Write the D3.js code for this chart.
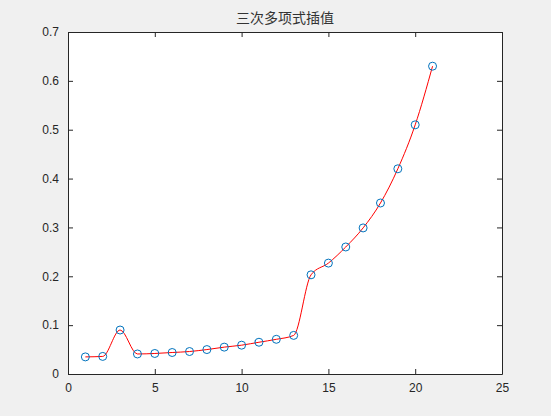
<!DOCTYPE html>
<html>
<head>
<meta charset="utf-8">
<script src="https://cdn.jsdelivr.net/npm/d3@7"></script>
<style>
  body { margin: 0; background: #f0f0f0; }
  svg { display: block; }
  .tick text { font-family: "Liberation Sans", Arial, sans-serif; font-size: 12px; fill: #262626; }
</style>
</head>
<body>
<svg id="chart"></svg>
<script>
// Data
const xValues = [1, 2, 3, 4, 5, 6, 7, 8, 9, 10, 11, 12, 13, 14, 15, 16, 17, 18, 19, 20, 21];
const yValues = [0.035, 0.036, 0.090, 0.041, 0.042, 0.044, 0.046, 0.050, 0.055, 0.059,
                 0.065, 0.071, 0.079, 0.203, 0.227, 0.260, 0.299, 0.350, 0.420, 0.510, 0.630];
const xTicks = [0, 5, 10, 15, 20, 25];
const yTicks = [0, 0.1, 0.2, 0.3, 0.4, 0.5, 0.6, 0.7];
const title = "三次多项式插值";

const points = xValues.map((x, i) => ({ x: x, y: yValues[i] }));

const W = 551, H = 416;
const margin = { top: 32, right: 49, bottom: 42, left: 68 };
const width = W - margin.left - margin.right;
const height = H - margin.top - margin.bottom;

const svg = d3.select("#chart")
  .attr("width", W)
  .attr("height", H);

svg.append("rect")
  .attr("width", W)
  .attr("height", H)
  .attr("fill", "#f0f0f0");

const g = svg.append("g")
  .attr("transform", `translate(${margin.left},${margin.top})`);

g.append("rect")
  .attr("width", width)
  .attr("height", height)
  .attr("fill", "#fff");

const xScale = d3.scaleLinear().domain([0, 25]).range([0, width]);
const yScale = d3.scaleLinear().domain([0, 0.7]).range([height, 0]);

// line (shape-preserving cubic)
const line = d3.line()
  .x(d => xScale(d.x))
  .y(d => yScale(d.y))
  .curve(d3.curveMonotoneX);

g.append("path")
  .datum(points)
  .attr("fill", "none")
  .attr("stroke", "#ff0000")
  .attr("stroke-width", 1)
  .attr("d", line);

g.selectAll(".pt")
  .data(points)
  .enter()
  .append("circle")
  .attr("class", "pt")
  .attr("cx", d => xScale(d.x))
  .attr("cy", d => yScale(d.y))
  .attr("r", 4)
  .attr("fill", "none")
  .attr("stroke", "#0072bd")
  .attr("stroke-width", 1);

// axes, MATLAB style: ticks inward on all four sides
const tickLen = 5;
const axisColor = "#262626";

function styleAxis(sel) {
  sel.select(".domain").attr("stroke", axisColor);
  sel.selectAll(".tick line").attr("stroke", axisColor);
}

g.append("g")
  .attr("transform", `translate(0,${height})`)
  .call(d3.axisBottom(xScale).tickValues(xTicks).tickSizeInner(-tickLen).tickSizeOuter(0).tickPadding(9).tickFormat(d3.format("d")))
  .call(styleAxis);

g.append("g")
  .call(d3.axisTop(xScale).tickValues(xTicks).tickSizeInner(-tickLen).tickSizeOuter(0).tickFormat(""))
  .call(styleAxis);

g.append("g")
  .call(d3.axisLeft(yScale).tickValues(yTicks).tickSizeInner(-tickLen).tickSizeOuter(0).tickPadding(9).tickFormat(d => d === 0 ? "0" : d3.format(".1f")(d)))
  .call(styleAxis);

g.append("g")
  .attr("transform", `translate(${width},0)`)
  .call(d3.axisRight(yScale).tickValues(yTicks).tickSizeInner(-tickLen).tickSizeOuter(0).tickFormat(""))
  .call(styleAxis);

g.selectAll(".domain").attr("stroke-width", 1);

// title
svg.append("text")
  .attr("x", margin.left + width / 2)
  .attr("y", 23)
  .attr("text-anchor", "middle")
  .attr("font-family", "'Noto Sans CJK SC', sans-serif")
  .attr("font-size", 14)
  .attr("fill", "#333")
  .text(title);
</script>
</body>
</html>
